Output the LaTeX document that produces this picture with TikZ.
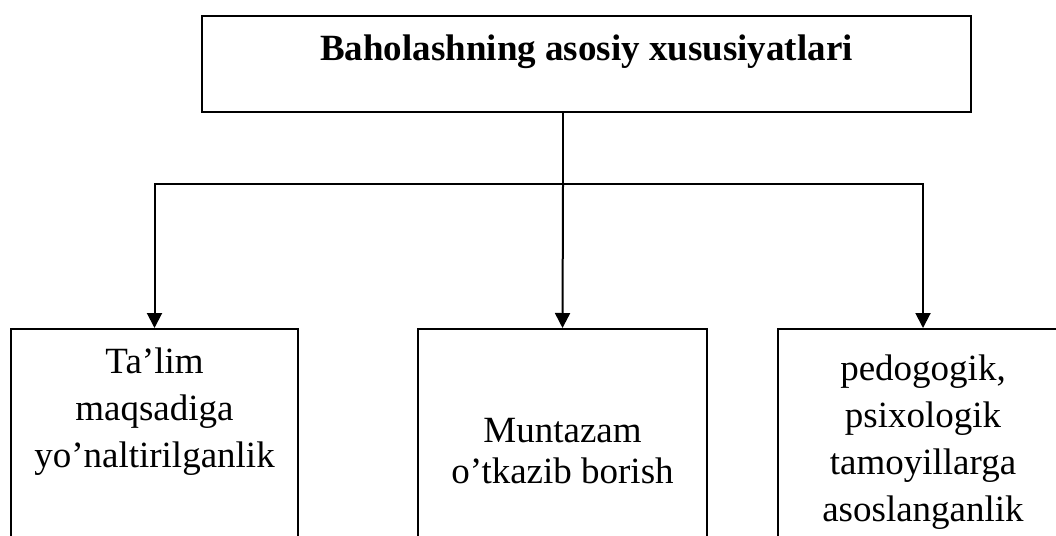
\documentclass[tikz,border=0pt]{standalone}
\usepackage{fontspec}
\setmainfont{Liberation Serif}
\usetikzlibrary{arrows.meta}
\begin{document}
\begin{tikzpicture}[x=1pt,y=-1pt,
  box/.style={draw=black, line width=1.8pt, rectangle, inner sep=0pt},
  % multi-line labels: the base anchor sits on the last line's baseline
  lbl/.style={font=\fontsize{37}{47}\selectfont, align=center, anchor=base, inner sep=0pt},
  link/.style={draw=black, line width=2pt},
  arr/.style={link, -{Triangle[length=15pt,width=15pt]}}
]
\clip (0,0) rectangle (1056,535);
\fill[white] (0,0) rectangle (1056,535);

% heading box
\node[box, minimum width=769pt, minimum height=96pt,
      font=\bfseries\fontsize{37}{42}\selectfont,
      text height=26pt, text depth=34pt] (head) at (586.5,64)
      {Baholashning asosiy xususiyatlari};

% three property boxes (run past the lower and right edges)
\node[box, minimum width=287pt, minimum height=300pt, anchor=north] (b1) at (154.5,328) {};
\node[box, minimum width=289pt, minimum height=300pt, anchor=north] (b2) at (562.5,328) {};
\node[box, minimum width=290pt, minimum height=300pt, anchor=north] (b3) at (923,328) {};

\node[lbl] (t1) at (154.5,467) {Ta’lim\\maqsadiga\\yo’naltirilganlik};
\node[lbl, font=\fontsize{37}{41}\selectfont] (t2) at (562.5,483) {Muntazam\\o’tkazib borish};
\node[lbl] (t3) at (923,521) {pedogogik,\\psixologik\\tamoyillarga\\asoslanganlik};

% connectors
\coordinate (j) at (563,184);
\draw[link] (head.south -| j) -- (j);
\draw[arr] (j) -| (b1.north);
\draw[arr] (j) -- (b2.north);
\draw[arr] (j) -| (b3.north);
\end{tikzpicture}
\end{document}
